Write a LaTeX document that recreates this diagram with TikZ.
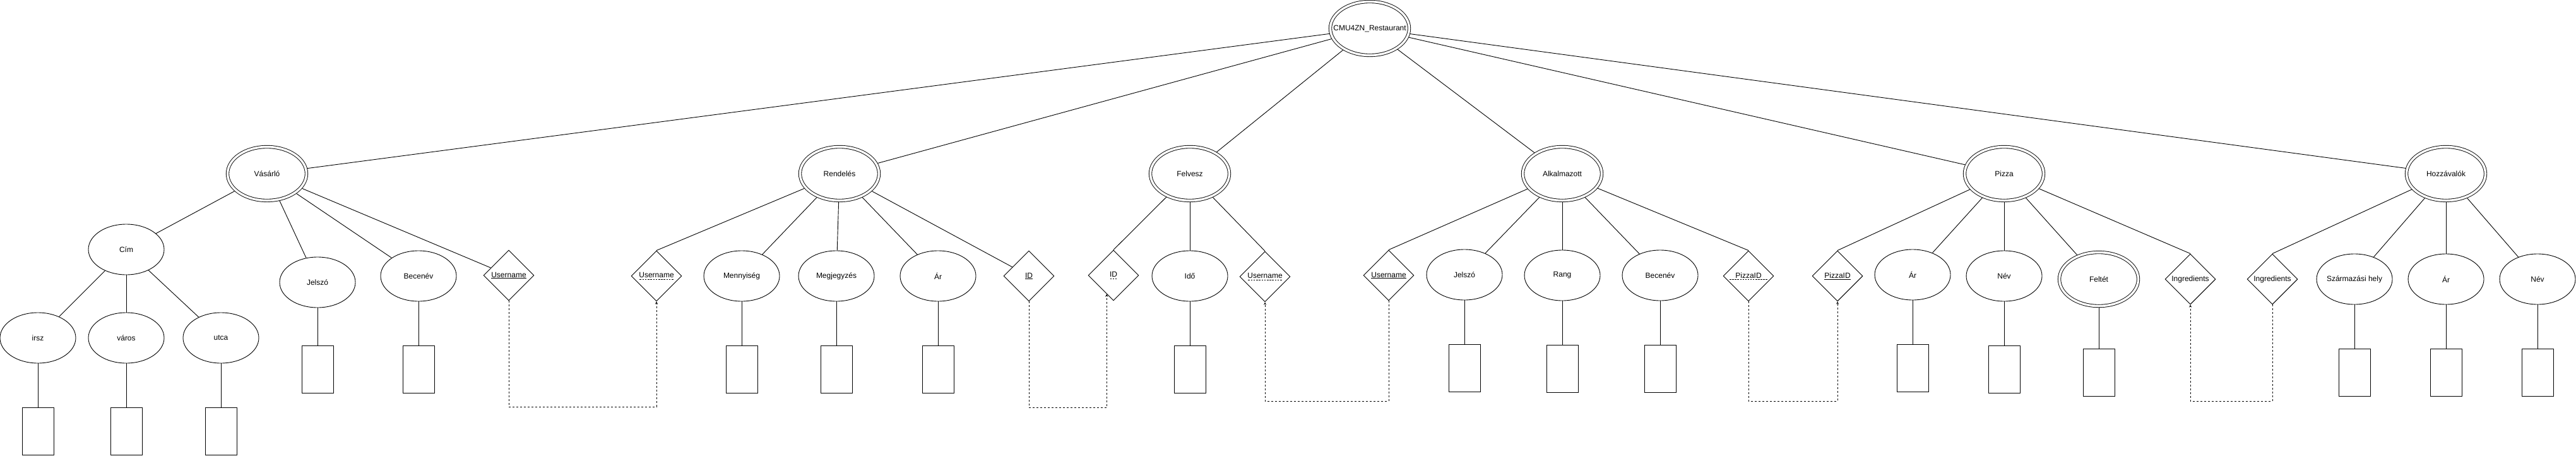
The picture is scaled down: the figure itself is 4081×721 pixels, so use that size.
\documentclass[tikz,border=0pt]{standalone}
\usepackage{fontspec}
\setmainfont{Liberation Sans}
\usetikzlibrary{shapes.geometric,positioning}
\newcommand\dul[1]{\setbox0=\hbox{#1}\rlap{\copy0}\raisebox{-2.5pt}{\hbox to \wd0{\xleaders\hbox to 4pt{\hss\vrule width 2.5pt height 0.7pt depth 0pt\hss}\hfill}}}
\tikzset{
    entity/.style={ellipse,draw,double,double distance=3.5pt,minimum width=125pt,minimum height=85pt,inner sep=0pt,outer sep=2.6pt},
    attr/.style={ellipse,draw,minimum width=120pt,minimum height=80pt,inner sep=0pt},
    key/.style={diamond,draw,aspect=1,minimum width=80pt,minimum height=80pt,inner sep=0pt},
    dom/.style={rectangle,draw,minimum width=50pt,minimum height=75pt,inner sep=0pt},
    fk/.style={->,>=stealth,dash pattern=on 3pt off 3pt}
}
\begin{document}
\begin{tikzpicture}[x=1pt,y=-1pt,line width=0.9pt,font=\fontsize{12}{14}\selectfont]
    \useasboundingbox (0,0) rectangle (4081,721);
    \node[entity] (root) at (2170,45) {\makebox[0pt]{CMU4ZN\_Restaurant}};
    \node[entity] (vasarlo) at (423,275) {Vásárló};
    \node[entity] (rendeles) at (1330,275) {Rendelés};
    \node[entity] (felvesz) at (1885,275) {Felvesz};
    \node[entity] (alkalmazott) at (2475,275) {Alkalmazott};
    \node[entity] (pizza) at (3175,275) {Pizza};
    \node[entity] (hozzavalok) at (3875,275) {Hozzávalók};
    \foreach \e in {vasarlo,rendeles,felvesz,alkalmazott,pizza,hozzavalok}
        \draw (root) -- (\e);

    \node[attr] (cim) at (200,395) {Cím};
    \node[attr] (irsz) at (60,535) {irsz};
    \node[attr] (varos) at (200,535) {város};
    \node[attr] (utca) at (350,535) {utca};
    \node[attr] (vjelszo) at (503,447) {Jelszó};
    \node[attr] (vbecenev) at (663,437) {Becenév};
    \node[key] (vuser) at (806,436) {\underline{Username}};
    \foreach \a in {cim,vjelszo,vbecenev,vuser}
        \draw (vasarlo) -- (\a);
    \foreach \a in {irsz,varos,utca}
        \draw (cim) -- (\a);

    \node[key] (ruser) at (1040,437) {\dul{Username}};
    \node[attr] (mennyiseg) at (1175,437) {Mennyiség};
    \node[attr] (megjegyzes) at (1325,437) {Megjegyzés};
    \node[attr] (rar) at (1486,437) {Ár};
    \node[key] (rid) at (1630,437) {\underline{ID}};
    \foreach \a in {ruser.north,mennyiseg,megjegyzes,rar,rid}
        \draw (rendeles) -- (\a);

    \node[key] (fid) at (1764,436) {\dul{ID}};
    \node[attr] (ido) at (1885,437) {Idő};
    \node[key] (fuser) at (2004,438) {\dul{Username}};
    \foreach \a in {fid.north,ido,fuser.north}
        \draw (felvesz) -- (\a);

    \node[key] (auser) at (2200,436) {\underline{Username}};
    \node[attr] (ajelszo) at (2320,435) {Jelszó};
    \node[attr] (rang) at (2475,436) {Rang};
    \node[attr] (abecenev) at (2630,436) {Becenév};
    \node[key] (apizzaid) at (2770,437) {\dul{\kern10pt PizzaID\kern10pt}};
    \foreach \a in {auser.north,ajelszo,rang,abecenev,apizzaid.north}
        \draw (alkalmazott) -- (\a);

    \node[key] (ppizzaid) at (2911,437) {\underline{PizzaID}};
    \node[attr] (par) at (3030,435) {Ár};
    \node[attr] (pnev) at (3175,437) {Név};
    \node[entity] (feltet) at (3325,442) {Feltét};
    \node[key] (pingr) at (3470,442) {Ingredients};
    \foreach \a in {ppizzaid.north,par,pnev,feltet,pingr.north}
        \draw (pizza) -- (\a);

    \node[key] (hingr) at (3600,442) {Ingredients};
    \node[attr] (szarmazasi) at (3730,442) {\makebox[0pt]{Származási hely}};
    \node[attr] (har) at (3875,442) {Ár};
    \node[attr] (hnev) at (4020,442) {Név};
    \foreach \a in {hingr.north,szarmazasi,har,hnev}
        \draw (hozzavalok) -- (\a);

    \foreach \a in {irsz,varos,utca,vbecenev,mennyiseg,megjegyzes,rar,ido,ajelszo,rang,abecenev,par,pnev,szarmazasi,har,hnev}{
        \node[dom,below=70pt of \a] (\a dom) {};
        \draw (\a) -- (\a dom);
    }
    \node[dom,below=60pt of vjelszo] (vjelszodom) {};
    \draw (vjelszo) -- (vjelszodom);
    \node[dom,below=65pt of feltet] (feltetdom) {};
    \draw (feltet) -- (feltetdom);

    \draw[fk] (vuser.south) -- ++(0,168) -| (ruser.south);
    \draw[fk] (rid.south) -- ++(0,168) -| (fid.-110);
    \draw[fk] (auser.south) -- ++(0,159) -| (fuser.south);
    \draw[fk] (apizzaid.south) -- ++(0,158) -| (ppizzaid.south);
    \draw[fk] (hingr.south) -- ++(0,153) -| (pingr.south);
\end{tikzpicture}
\end{document}
